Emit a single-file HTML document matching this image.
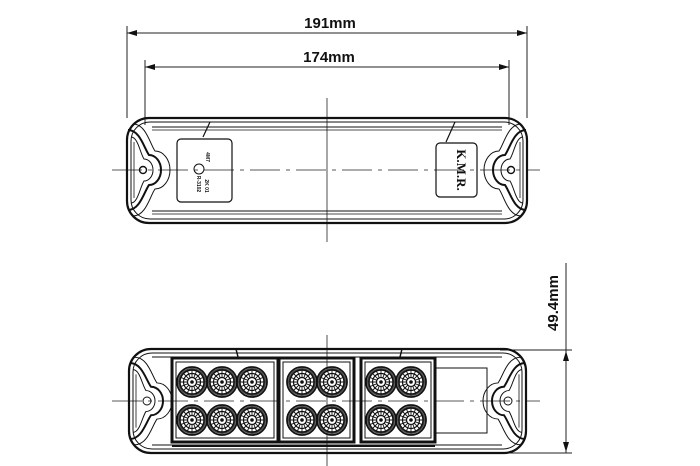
<!DOCTYPE html>
<html><head><meta charset="utf-8"><style>
html,body{margin:0;padding:0;background:#fff;}
svg{display:block;}
text{font-family:"Liberation Sans",sans-serif;font-weight:bold;fill:#111;}
</style></head><body>
<svg width="700" height="466" viewBox="0 0 700 466" xmlns="http://www.w3.org/2000/svg">
<defs>
<marker id="ar" viewBox="0 0 10 6" refX="10" refY="3" markerWidth="10" markerHeight="6" orient="auto-start-reverse" markerUnits="userSpaceOnUse">
<path d="M0,0 L10,3 L0,6 z" fill="#111"/></marker>
<g id="led">
<circle r="14" fill="#444"/>
<circle r="15" fill="none" stroke="#111" stroke-width="1.8"/>
<circle r="12" fill="#fff" stroke="#111" stroke-width="1.4"/>
<circle r="8.5" fill="none" stroke="#111" stroke-width="1.2"/>
<g stroke="#111" stroke-width="0.9">
<line x1="0" y1="-12" x2="0" y2="12"/><line x1="-12" y1="0" x2="12" y2="0"/>
<line x1="-8.5" y1="-8.5" x2="8.5" y2="8.5"/><line x1="-8.5" y1="8.5" x2="8.5" y2="-8.5"/>
<line x1="-4.6" y1="-11.1" x2="4.6" y2="11.1"/><line x1="-11.1" y1="-4.6" x2="11.1" y2="4.6"/>
<line x1="-4.6" y1="11.1" x2="4.6" y2="-11.1"/><line x1="-11.1" y1="4.6" x2="11.1" y2="-4.6"/>
</g>
<circle r="4.5" fill="#fff" stroke="#111" stroke-width="1.2"/><circle r="1.8" fill="#111"/>
</g>
<g id="notchL" fill="none" stroke="#111">
<path d="M128,-40 C140,-40 144,-22 149,-15 A12 15 0 0 1 149,15 C144,22 140,40 128,40" stroke-width="2"/>
<path d="M133,-46 C146,-46 150,-26 155,-19 A15 19 0 0 1 155,19 C150,26 146,46 133,46" stroke-width="1"/>
<path d="M131,-33 C138,-33 140,-17 144,-11 A9 11 0 0 1 144,11 C140,17 138,33 131,33" stroke-width="1"/>
<line x1="134" y1="-28" x2="134" y2="28" stroke-width="0.8"/>
</g>
</defs>

<g stroke="#222" stroke-width="1" fill="none">
<line x1="127" y1="26" x2="127" y2="118"/><line x1="527" y1="26" x2="527" y2="118"/>
<line x1="127" y1="33" x2="527" y2="33" marker-start="url(#ar)" marker-end="url(#ar)"/>
<line x1="145" y1="60" x2="145" y2="125"/><line x1="509" y1="60" x2="509" y2="125"/>
<line x1="145" y1="67" x2="509" y2="67" marker-start="url(#ar)" marker-end="url(#ar)"/>
<line x1="500" y1="350" x2="572" y2="350"/><line x1="500" y1="453" x2="572" y2="453"/>
<line x1="566" y1="263" x2="566" y2="453"/>
<line x1="566" y1="362" x2="566" y2="351" marker-end="url(#ar)"/>
<line x1="566" y1="441" x2="566" y2="452" marker-end="url(#ar)"/>
</g>
<text x="330" y="28" font-size="15" text-anchor="middle">191mm</text>
<text x="329" y="62" font-size="15" text-anchor="middle">174mm</text>
<text transform="translate(558,303) rotate(-90)" font-size="15" text-anchor="middle">49.4mm</text>

<g stroke="#222" stroke-width="0.8" fill="none">
<line x1="327" y1="98" x2="327" y2="242"/>
<line x1="327" y1="335" x2="327" y2="466"/>
<line x1="112" y1="170" x2="540" y2="170" stroke-dasharray="30,6,4,6"/>
<line x1="112" y1="401" x2="540" y2="401" stroke-dasharray="30,6,4,6"/>
</g>

<g fill="none" stroke="#111">
<rect x="127" y="118" width="400" height="105" rx="22" stroke-width="2.2"/>
<rect x="131" y="122" width="392" height="97" rx="19" stroke-width="1"/>
<line x1="152" y1="127" x2="502" y2="127" stroke-width="1"/>
<line x1="152" y1="130" x2="502" y2="130" stroke-width="0.8"/>
<line x1="152" y1="211" x2="502" y2="211" stroke-width="1"/>
<line x1="152" y1="214" x2="502" y2="214" stroke-width="0.8"/>
<circle cx="143" cy="170" r="3.5" stroke-width="1.4"/>
<circle cx="511" cy="170" r="3.5" stroke-width="1.4"/>
<rect x="177" y="139" width="55" height="63" rx="4" stroke-width="1.2"/>
<rect x="436" y="143" width="41" height="54" rx="4" stroke-width="1.2"/>
<line x1="210" y1="122" x2="203" y2="137" stroke-width="1.2"/>
<line x1="455" y1="122" x2="446" y2="142" stroke-width="1.2"/>
<circle cx="199" cy="169" r="5" stroke-width="1"/>
</g>
<use href="#notchL" transform="translate(0,170)"/>
<use href="#notchL" transform="translate(654,170) scale(-1,1)"/>
<text transform="translate(457,170) rotate(90)" font-size="13" text-anchor="middle" style="font-family:'Liberation Serif',serif">K.M.R.</text>
<text transform="translate(206,157) rotate(90)" font-size="5" text-anchor="middle">4M7</text>
<text transform="translate(197,184) rotate(90)" font-size="5" text-anchor="middle">R-3102</text>
<text transform="translate(205,186) rotate(90)" font-size="5" text-anchor="middle">2K 01</text>

<g fill="none" stroke="#111">
<rect x="129" y="349" width="397" height="104" rx="22" stroke-width="2.2"/>
<rect x="133" y="353" width="389" height="96" rx="19" stroke-width="1"/>
<line x1="152" y1="357" x2="502" y2="357" stroke-width="1"/>
<line x1="152" y1="445" x2="502" y2="445" stroke-width="1"/>
<circle cx="147" cy="401" r="4" stroke-width="1"/>
<circle cx="508" cy="401" r="4" stroke-width="1"/>
<line x1="236" y1="349" x2="238" y2="357" stroke-width="1.5"/>
<line x1="402" y1="349" x2="400" y2="357" stroke-width="1.5"/>
<rect x="172" y="358" width="106" height="84" stroke-width="3"/>
<rect x="176" y="362" width="98" height="76" stroke-width="1"/>
<rect x="279" y="358" width="75" height="84" stroke-width="3"/>
<rect x="283" y="362" width="67" height="76" stroke-width="1"/>
<rect x="361" y="358" width="74" height="84" stroke-width="3"/>
<rect x="365" y="362" width="66" height="76" stroke-width="1"/>
<rect x="435" y="368" width="52" height="65" stroke-width="1"/>
<line x1="172" y1="446" x2="435" y2="446" stroke-width="2"/>
</g>
<use href="#notchL" transform="translate(2,401) scale(1,0.95)"/>
<use href="#notchL" transform="translate(653,401) scale(-1,0.95)"/>
<use href="#led" x="192" y="382"/><use href="#led" x="222" y="382"/><use href="#led" x="252" y="382"/>
<use href="#led" x="192" y="420"/><use href="#led" x="222" y="420"/><use href="#led" x="252" y="420"/>
<use href="#led" x="302" y="382"/><use href="#led" x="332" y="382"/>
<use href="#led" x="302" y="420"/><use href="#led" x="332" y="420"/>
<use href="#led" x="381" y="382"/><use href="#led" x="411" y="382"/>
<use href="#led" x="381" y="420"/><use href="#led" x="411" y="420"/>
</svg>
</body></html>
